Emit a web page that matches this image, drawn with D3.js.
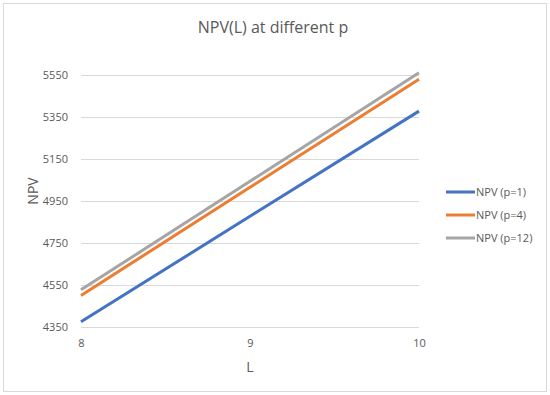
<!DOCTYPE html>
<html>
<head>
<meta charset="utf-8" />
<title>NPV(L) at different p</title>
<script src="https://cdn.jsdelivr.net/npm/d3@7"></script>
<style>
  body { margin: 0; background: #fff; }
  svg text { font-family: "Open Sans", "Noto Sans", sans-serif; fill: #595959; }
  .grid line { stroke: #d9d9d9; stroke-width: 1px; }
  .line { fill: none; stroke-width: 3px; }
</style>
</head>
<body>
<div id="chart"></div>
<script>
// Data
var lValues = [8, 9, 10]
var npvP1 = [4375, 4877, 5378]
var npvP4 = [4500, 5015, 5530]
var npvP12 = [4527, 5044, 5561]
var seriesNames = ["NPV (p=1)", "NPV (p=4)", "NPV (p=12)"]
var seriesColors = ["#4472C4", "#ED7D31", "#A5A5A5"]
var yTicks = [4350, 4550, 4750, 4950, 5150, 5350, 5550]
var xTicks = [8, 9, 10]

var W = 550, H = 395
var margin = { top: 75, right: 131, bottom: 68, left: 81 }
var width = W - margin.left - margin.right
var height = H - margin.top - margin.bottom

var svg = d3.select("#chart").append("svg")
    .attr("width", W).attr("height", H)

svg.append("rect")
    .attr("x", 3.5).attr("y", 3.5)
    .attr("width", W - 7).attr("height", H - 7)
    .attr("fill", "#fff").attr("stroke", "#d9d9d9")

var x = d3.scaleLinear().domain([8, 10]).range([0, width])
var y = d3.scaleLinear().domain([4350, 5550]).range([height, 0])

var g = svg.append("g")
    .attr("transform", "translate(" + margin.left + "," + margin.top + ")")

// gridlines + y labels
var yAxis = g.append("g").attr("class", "grid")
    .call(d3.axisLeft(y).tickValues(yTicks).tickSize(-width).tickPadding(13).tickFormat(d3.format("d")))
yAxis.select(".domain").remove()
yAxis.selectAll("text").style("font-size", "11px")

var xAxis = g.append("g")
    .attr("transform", "translate(0," + height + ")")
    .call(d3.axisBottom(x).tickValues(xTicks).tickSize(0).tickPadding(12).tickFormat(d3.format("d")))
xAxis.select(".domain").remove()
xAxis.selectAll("text").style("font-size", "11px")

var series = [npvP1, npvP4, npvP12]
var line = d3.line()
    .x(function(d, i) { return x(lValues[i]) })
    .y(function(d) { return y(d) })

series.forEach(function(s, i) {
    g.append("path")
        .datum(s)
        .attr("class", "line")
        .attr("stroke", seriesColors[i])
        .attr("d", line)
})

// Title and axis titles
svg.append("text")
    .attr("x", 273).attr("y", 33)
    .attr("text-anchor", "middle")
    .style("font-size", "16px")
    .text("NPV(L) at different p")

svg.append("text")
    .attr("x", margin.left + width / 2).attr("y", 372)
    .attr("text-anchor", "middle")
    .style("font-size", "14px")
    .text("L")

svg.append("text")
    .attr("transform", "translate(38," + (margin.top + height / 2 - 10) + ") rotate(-90)")
    .attr("text-anchor", "middle")
    .style("font-size", "14px")
    .text("NPV")

// Legend
var legend = svg.append("g").attr("transform", "translate(446,192)")
seriesNames.forEach(function(name, i) {
    var row = legend.append("g").attr("transform", "translate(0," + i * 23 + ")")
    row.append("line")
        .attr("x1", 0).attr("x2", 29)
        .attr("stroke", seriesColors[i]).attr("stroke-width", 3)
    row.append("text")
        .attr("x", 30).attr("dy", "0.35em")
        .style("font-size", "11px")
        .text(name)
})
</script>
</body>
</html>
